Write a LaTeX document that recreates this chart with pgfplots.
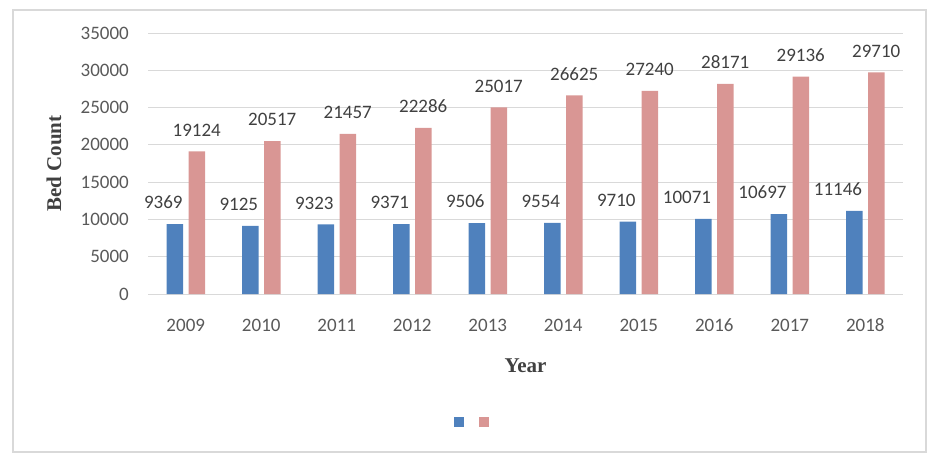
\documentclass[border=0pt]{standalone}
\usepackage{pgfplots}
\pgfplotsset{compat=1.18}
\usepackage{fontspec}
\setmainfont{Carlito}
\newfontfamily\tnr{Liberation Serif}
\definecolor{barblue}{HTML}{4F81BD}
\definecolor{barpink}{HTML}{D99694}
\definecolor{gridgray}{HTML}{D9D9D9}
\definecolor{ticktext}{HTML}{595959}
\definecolor{labeltext}{HTML}{404040}
\begin{document}
\begin{tikzpicture}
\path[use as bounding box] (0pt,0pt) rectangle (937pt,-461pt);
\draw[gridgray, line width=2pt] (13pt,-10pt) rectangle (926pt,-452pt);
\begin{axis}[
  at={(148pt,-294pt)}, anchor=south west,
  scale only axis, width=755pt, height=261pt,
  xmin=-0.5, xmax=9.5, ymin=0, ymax=35000,
  ytick={0,5000,10000,15000,20000,25000,30000,35000},
  xtick={0,1,2,3,4,5,6,7,8,9},
  xticklabels={2009,2010,2011,2012,2013,2014,2015,2016,2017,2018},
  scaled y ticks=false,
  /pgf/number format/1000 sep={},
  /pgf/number format/assume math mode=true,
  axis line style={draw=none},
  major tick length=0pt,
  ymajorgrids, grid style={gridgray, line width=1pt},
  tick label style={font=\fontsize{19pt}{21pt}\selectfont, text=ticktext, text height=12pt, text depth=0pt},
  yticklabel style={anchor=east, inner sep=0pt, xshift=-19pt},
  xticklabel style={anchor=north, inner sep=0pt, yshift=-25pt},
  ylabel={Bed Count}, xlabel={Year},
  label style={font=\tnr\bfseries\fontsize{21pt}{24pt}\selectfont, text=labeltext},
  ylabel style={at={(axis description cs:-0.1245,0.5)}, anchor=center, rotate=0},
  xlabel style={at={(axis description cs:0.5,-0.274)}, anchor=center},
  ybar, bar width=16.5pt,
  nodes near coords,
  every node near coord/.append style={font=\fontsize{19pt}{21pt}\selectfont, text=labeltext, inner sep=0pt, yshift=15pt},
  legend style={draw=none, fill=none, legend columns=-1, inner sep=0pt, outer sep=0pt,
    at={(axis description cs:0.4384,-0.4904)}, anchor=center,
    /tikz/every odd column/.append style={column sep=14pt},
    nodes={inner sep=0pt}},
]
\addplot[fill=barblue, draw=none, bar shift=-11pt,
  every node near coord/.append style={anchor=south east, xshift=8pt},
  legend image code/.code={\fill[barblue] (0pt,-5pt) rectangle (10pt,5pt);}]
  coordinates {(0,9369) (1,9125) (2,9323) (3,9371) (4,9506) (5,9554) (6,9710) (7,10071) (8,10697) (9,11146)};
\addlegendentry{\mbox{}}
\addplot[fill=barpink, draw=none, bar shift=11pt,
  every node near coord/.append style={anchor=south},
  legend image code/.code={\fill[barpink] (0pt,-5pt) rectangle (10pt,5pt);}]
  coordinates {(0,19124) (1,20517) (2,21457) (3,22286) (4,25017) (5,26625) (6,27240) (7,28171) (8,29136) (9,29710)};
\addlegendentry{\mbox{}}
\end{axis}
\end{tikzpicture}
\end{document}
